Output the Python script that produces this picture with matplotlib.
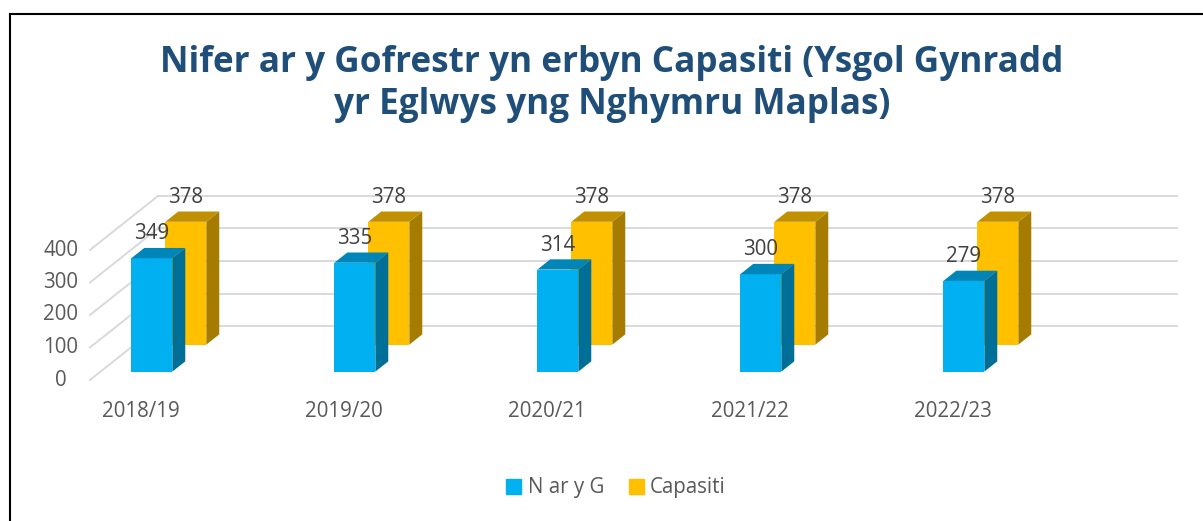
import matplotlib
matplotlib.use("Agg")
import matplotlib.pyplot as plt
from matplotlib.patches import Patch, Polygon
from matplotlib.lines import Line2D

# data
years = ["2018/19", "2019/20", "2020/21", "2021/22", "2022/23"]
n_ar_y_g = [349, 335, 314, 300, 279]
capasiti = [378, 378, 378, 378, 378]
ticks = [0, 100, 200, 300, 400]

title = "Nifer ar y Gofrestr yn erbyn Capasiti (Ysgol Gynradd\nyr Eglwys yng Nghymru Maplas)"

# look
W, H = 1203, 521
PX_X = 203.0      # pixels per category
PX_V = 0.325      # pixels per value unit
X0, Y0 = 141.3, 141.0   # pixel position of category 0 / value 0 (front plane)
DX = 68 / PX_X    # depth offset (whole floor) in data units
DV = 54 / PX_V
HALF = 41 / PX_X / 2
BAR_D = 0.19

series = [
    # values, depth of front face, front, side, top colours, label
    (capasiti, 0.655, "#FFC000", "#A57C00", "#C09000", "Capasiti"),
    (n_ar_y_g, 0.155, "#00B0F0", "#006F98", "#0085B8", "N ar y G"),
]

plt.rcParams["font.family"] = ["Open Sans", "DejaVu Sans"]

fig = plt.figure(figsize=(W / 100, H / 100), dpi=100)
ax = fig.add_axes([0, 0, 1, 1])
ax.set_xlim(-X0 / PX_X, (W - X0) / PX_X)
ax.set_ylim(-Y0 / PX_V, (H - Y0) / PX_V)
ax.axis("off")

grid_c = "#D9D9D9"
x_left = -0.253
x_right = 4.767
for t in ticks:
    # side wall diagonal and back wall line
    ax.plot([x_left, x_left + DX], [t, t + DV], color=grid_c, lw=1.4, zorder=1)
    ax.plot([x_left + DX, x_right + DX], [t + DV, t + DV], color=grid_c, lw=1.4, zorder=1)
    ax.text(-0.396, t, str(t), ha="center", va="center", fontsize=14.8, color="#595959")

z = 2
for vals, d0, c_front, c_side, c_top, _ in series:
    d1 = d0 + BAR_D
    for i, v in enumerate(vals):
        xl = i - HALF + d0 * DX
        xr = i + HALF + d0 * DX
        b = d0 * DV
        ax.bar(xl, v, width=xr - xl, bottom=b, align="edge", color=c_front, zorder=z)
        side = [(xr, b), (xr + BAR_D * DX, b + BAR_D * DV),
                (xr + BAR_D * DX, b + BAR_D * DV + v), (xr, b + v)]
        top = [(xl, b + v), (xr, b + v),
               (xr + BAR_D * DX, b + v + BAR_D * DV), (xl + BAR_D * DX, b + v + BAR_D * DV)]
        ax.add_patch(Polygon(side, closed=True, color=c_side, lw=0, zorder=z))
        ax.add_patch(Polygon(top, closed=True, color=c_top, lw=0, zorder=z))
        ax.text(i + d0 * DX, v + d1 * DV + 44, str(v), ha="center", va="center",
                fontsize=14.8, color="#404040", zorder=10)
    z += 1

for i, y in enumerate(years):
    ax.text(i, -98, y, ha="center", va="center", fontsize=14.8, color="#595959")

fig.text(612 / W, 1 - 84 / H, title, ha="center", va="center", fontsize=25.3,
         fontweight="bold", color="#1F4E79", linespacing=1.2)

handles = [Patch(color=series[1][2], label=series[1][5]),
           Patch(color=series[0][2], label=series[0][5])]
fig.legend(handles=handles, loc="center", bbox_to_anchor=(616 / W, 1 - 488 / H),
           ncol=2, frameon=False, fontsize=14.8, labelcolor="#595959",
           handlelength=0.75, handleheight=0.75, handletextpad=0.3, columnspacing=1.2)

# chart border (left and top only visible)
fig.add_artist(Line2D([10 / W, 1], [1 - 14 / H, 1 - 14 / H], color="black", lw=1.5,
                      transform=fig.transFigure))
fig.add_artist(Line2D([10 / W, 10 / W], [0, 1 - 14 / H], color="black", lw=1.5,
                      transform=fig.transFigure))

fig.savefig("out.png", dpi=100)
